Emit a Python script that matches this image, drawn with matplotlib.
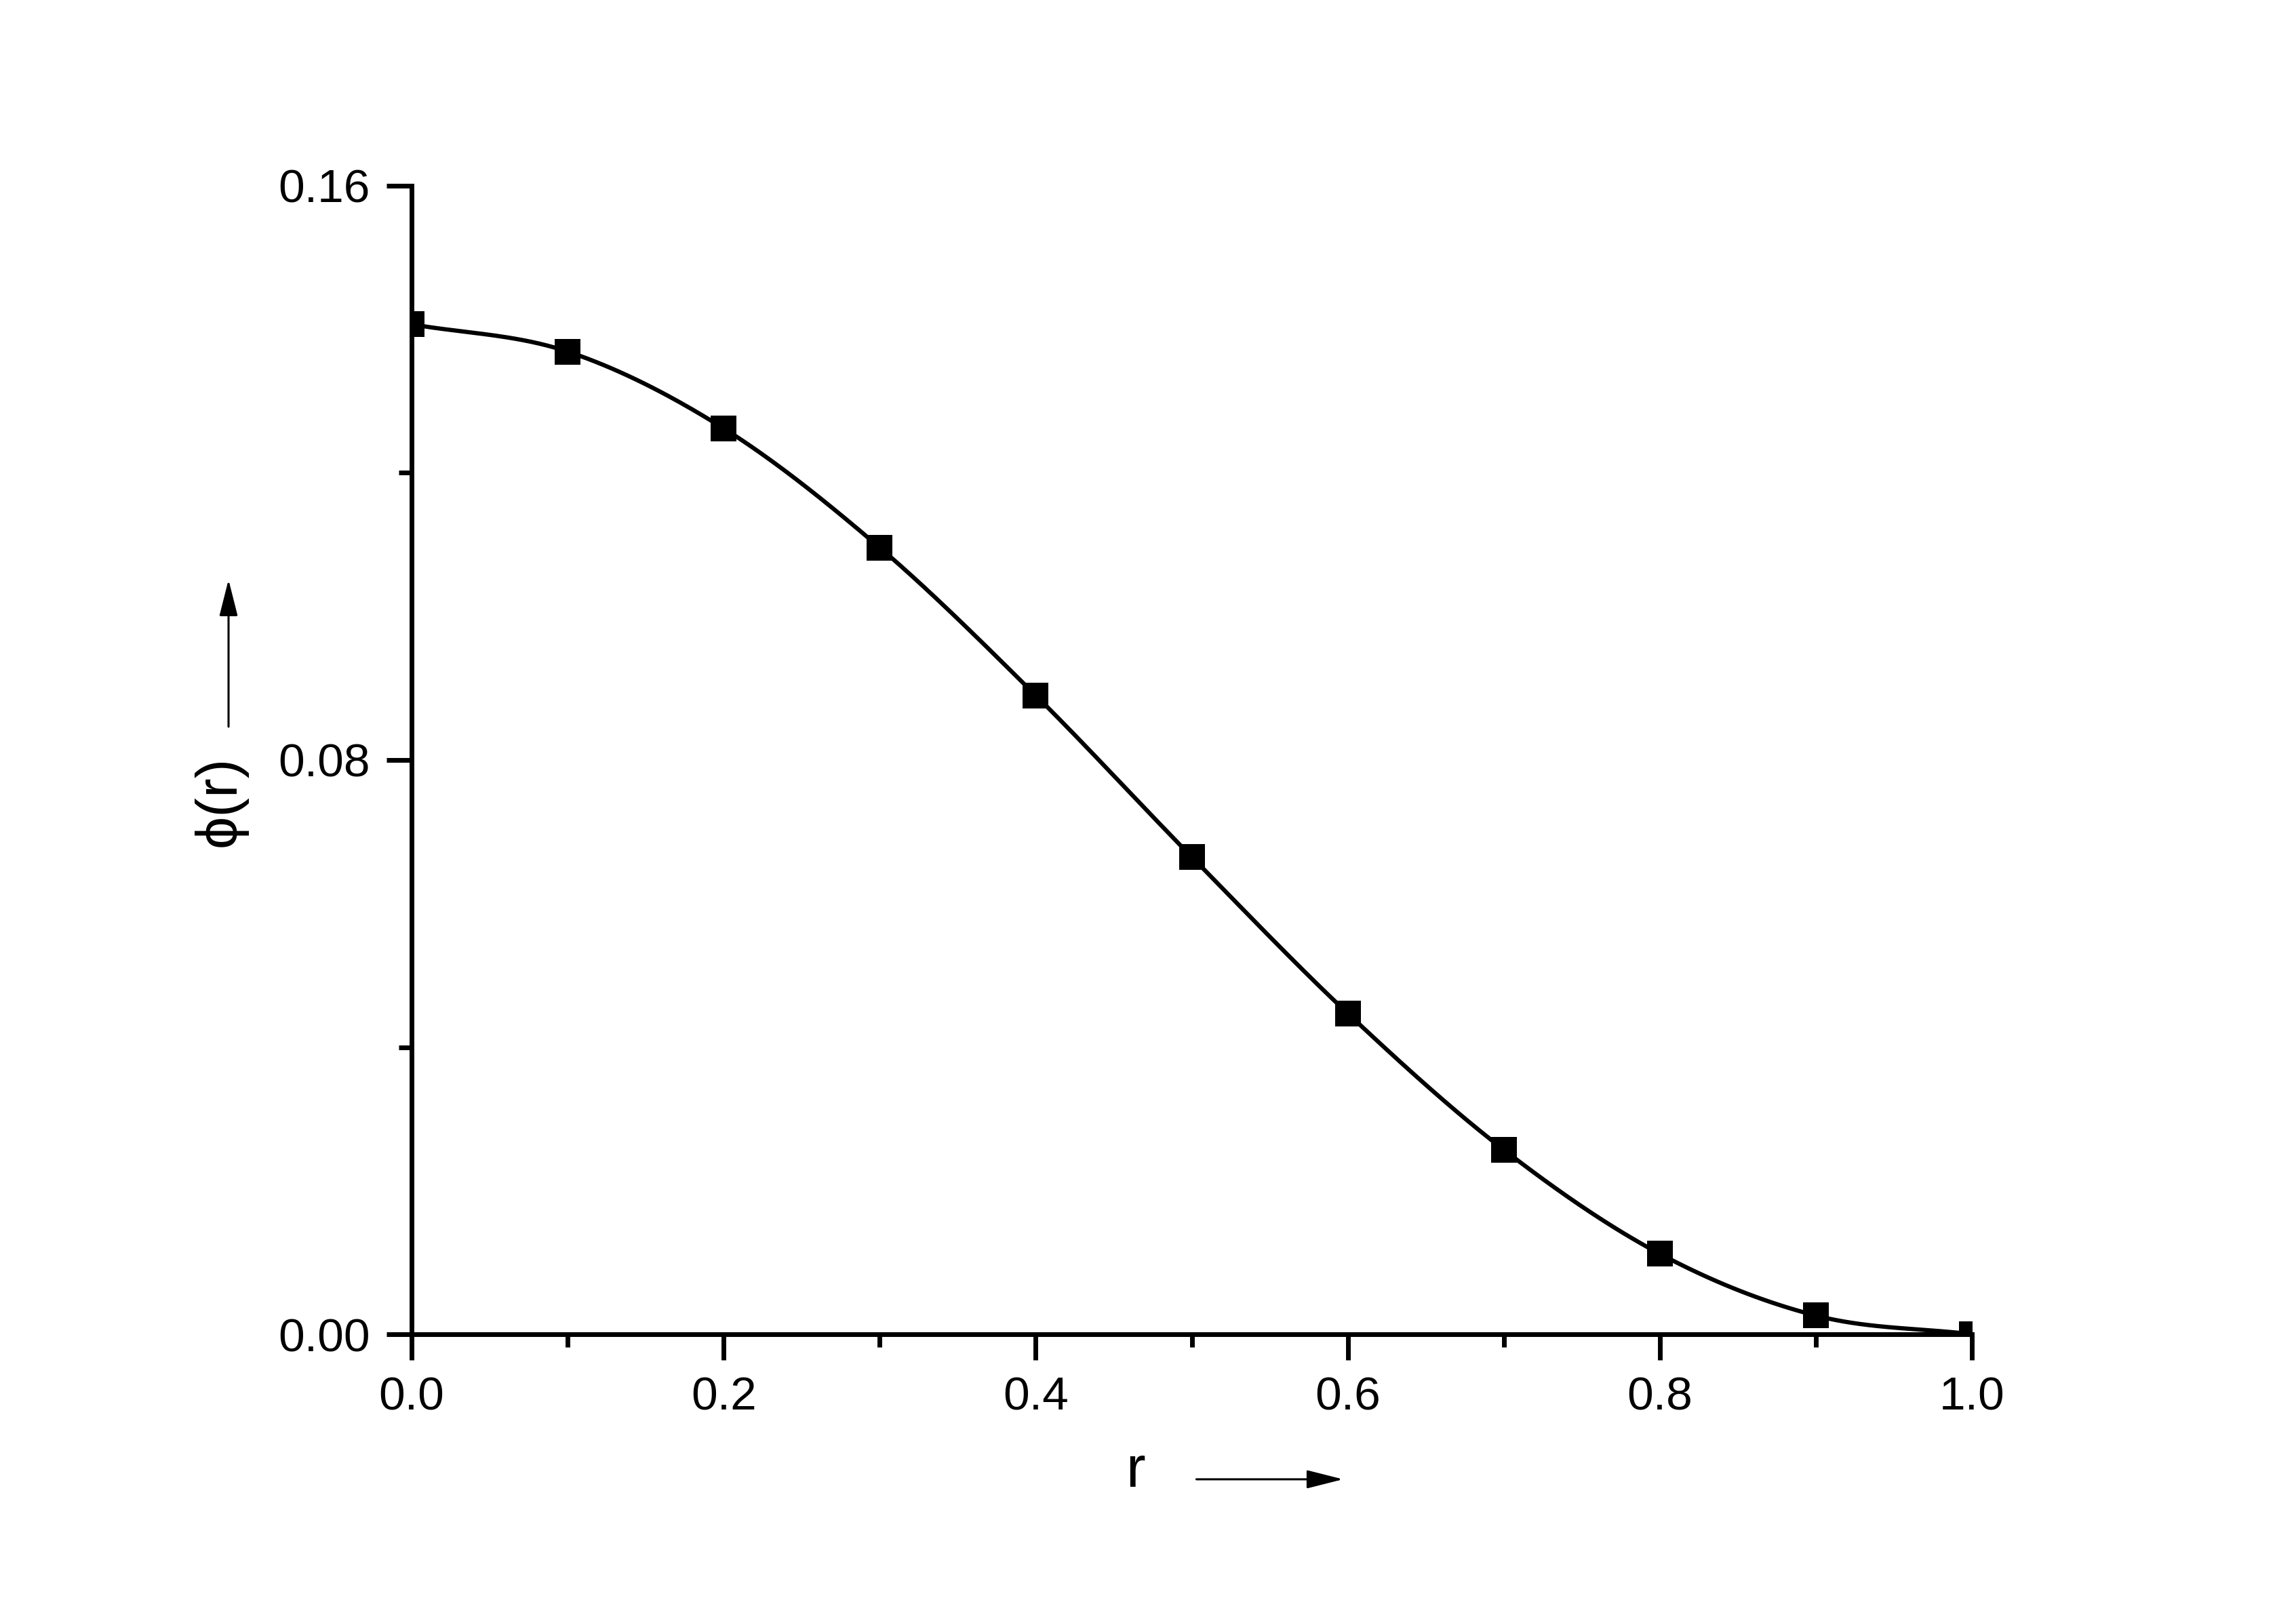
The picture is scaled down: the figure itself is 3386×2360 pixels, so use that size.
import numpy as np
import matplotlib
matplotlib.use('agg')
import matplotlib.pyplot as plt
from matplotlib.ticker import MultipleLocator

plt.rcParams['font.family'] = ['Liberation Sans', 'DejaVu Sans']

r = [0.0, 0.1, 0.2, 0.3, 0.4, 0.5, 0.6, 0.7, 0.8, 0.9, 1.0]
phi = [0.1407, 0.1369, 0.1262, 0.1096, 0.0890, 0.0665, 0.0447, 0.0257, 0.0112, 0.0026, 0.0]


def spline_line(x, y, n=40):
    # catmull-rom connection between the points, the way the source draws its line
    x = np.asarray(x)
    y = np.asarray(y)
    px = np.concatenate([[2 * x[0] - x[1]], x, [2 * x[-1] - x[-2]]])
    py = np.concatenate([[2 * y[0] - y[1]], y, [2 * y[-1] - y[-2]]])
    xs, ys = [], []
    t = np.linspace(0, 1, n)
    for i in range(1, len(px) - 2):
        for p, out in ((px, xs), (py, ys)):
            p0, p1, p2, p3 = p[i - 1], p[i], p[i + 1], p[i + 2]
            out.extend(0.5 * (2 * p1 + (-p0 + p2) * t + (2 * p0 - 5 * p1 + 4 * p2 - p3) * t ** 2
                              + (-p0 + 3 * p1 - 3 * p2 + p3) * t ** 3))
    return xs, ys


fig = plt.figure(figsize=(33.87, 23.6), dpi=100)
ax = fig.add_axes([0.1792, 0.1661, 0.6794, 0.7178])

sx, sy = spline_line(r, phi)
ax.plot(sx, sy, color='black', lw=4.5, solid_capstyle='butt')
ax.plot(r, phi, 's', color='black', markersize=27, markeredgewidth=0)

ax.set_xlim(0, 1.0)
ax.set_ylim(0, 0.16)
ax.xaxis.set_major_locator(MultipleLocator(0.2))
ax.xaxis.set_minor_locator(MultipleLocator(0.1))
ax.yaxis.set_major_locator(MultipleLocator(0.08))
ax.yaxis.set_minor_locator(MultipleLocator(0.04))
ax.xaxis.set_major_formatter(plt.FormatStrFormatter('%.1f'))
ax.yaxis.set_major_formatter(plt.FormatStrFormatter('%.2f'))

for s in ['top', 'right']:
    ax.spines[s].set_visible(False)
for s in ['left', 'bottom']:
    ax.spines[s].set_linewidth(5)

ax.tick_params(which='major', direction='out', length=27, width=5, pad=17, labelsize=50)
ax.tick_params(which='minor', direction='out', length=14, width=5)

ax.text(-0.1226, 0.464, 'ϕ(r)', transform=ax.transAxes, rotation=90,
        ha='center', va='center', fontsize=62)
ax.text(0.4637, -0.1198, 'r', transform=ax.transAxes,
        ha='center', va='center', fontsize=62)

arrow = dict(arrowstyle='-|>,head_length=0.83,head_width=0.21', mutation_scale=40,
             lw=2.2, color='black', shrinkA=0, shrinkB=0)
ax.annotate('', xy=(-0.1173, 0.657), xytext=(-0.1173, 0.529),
            xycoords='axes fraction', textcoords='axes fraction', arrowprops=arrow)
ax.annotate('', xy=(0.597, -0.1263), xytext=(0.503, -0.1263),
            xycoords='axes fraction', textcoords='axes fraction', arrowprops=arrow)

fig.savefig('out.png', dpi=100, facecolor='white')
